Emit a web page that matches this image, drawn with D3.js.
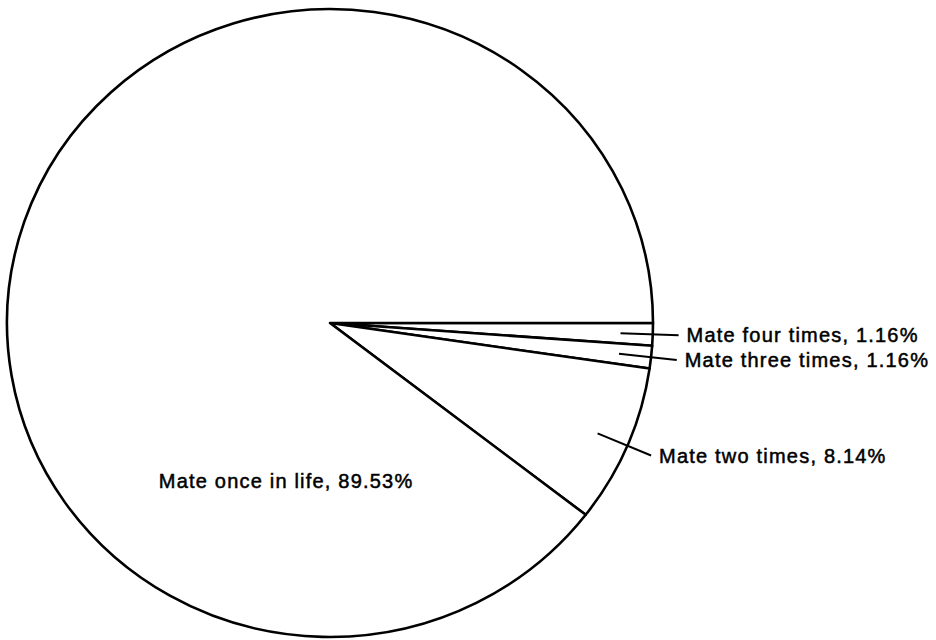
<!DOCTYPE html>
<html>
<head>
<meta charset="utf-8">
<script src="https://cdn.jsdelivr.net/npm/d3@7"></script>
<style>
  body { margin: 0; background: #fff; }
  .slice { fill: #fff; stroke: #000; stroke-width: 2.6; stroke-linejoin: round; }
  .leader { stroke: #000; stroke-width: 2; }
  .pie_label { font-family: "Liberation Sans", Arial, sans-serif; font-size: 20px; letter-spacing: 1.2px; fill: #000; stroke: #000; stroke-width: 0.5; }
</style>
</head>
<body>
<div id="chart"></div>
<script>

/* mating frequency pie */

// data

var categories = ["Mate four times", "Mate three times", "Mate two times", "Mate once in life"];
var percents = [1.16, 1.16, 8.14, 89.53];
var labels = ["Mate four times, 1.16%", "Mate three times, 1.16%", "Mate two times, 8.14%", "Mate once in life, 89.53%"];

var data = categories.map(function(c, i) {
  return { category: c, value: percents[i], label: labels[i] };
});

// sizes

var width = 936,
    height = 640,
    cx = 330,
    cy = 323,
    radius = 323,
    squash = 0.972;

var svg = d3.select("#chart")
  .append("svg")
    .attr("width", width)
    .attr("height", height);

// pie starts at 3 o'clock and runs clockwise

var pie = d3.pie()
  .sort(null)
  .value(function(d) { return d.value; })
  .startAngle(Math.PI / 2)
  .endAngle(Math.PI / 2 + 2 * Math.PI);

var arcs = pie(data);

var arc = d3.arc()
  .innerRadius(0)
  .outerRadius(radius);

var g = svg.append("g")
  .attr("transform", "translate(" + cx + "," + cy + ") scale(1," + squash + ")");

g.selectAll(".slice")
  .data(arcs)
  .enter()
  .append("path")
    .attr("class", "slice")
    .attr("d", arc);

// point on the (squashed) circle at a radius fraction along the mid angle

function pointAt(d, k) {
  var a = (d.startAngle + d.endAngle) / 2;
  return [cx + Math.sin(a) * radius * k, cy - Math.cos(a) * radius * k * squash];
}

// outside labels for the small slices

var small = arcs.slice(0, 3);

svg.selectAll(".leader")
  .data(small)
  .enter()
  .append("line")
    .attr("class", "leader")
    .attr("x1", function(d) { return pointAt(d, 0.9)[0]; })
    .attr("y1", function(d) { return pointAt(d, 0.9)[1]; })
    .attr("x2", function(d) { return pointAt(d, 1.08)[0]; })
    .attr("y2", function(d) { return pointAt(d, 1.08)[1]; });

svg.selectAll(".pie_label.out")
  .data(small)
  .enter()
  .append("text")
    .attr("class", "pie_label out")
    .attr("x", function(d) { return pointAt(d, 1.08)[0] + 8; })
    .attr("y", function(d) { return pointAt(d, 1.08)[1]; })
    .attr("dy", "0.35em")
    .text(function(d) { return d.data.label; });

// label inside the big slice

var big = arcs[3];

svg.append("text")
  .attr("class", "pie_label")
  .attr("x", cx - radius * 0.53)
  .attr("y", cy + radius * 0.49)
  .attr("dy", "0.35em")
  .text(big.data.label);

</script>
</body>
</html>
